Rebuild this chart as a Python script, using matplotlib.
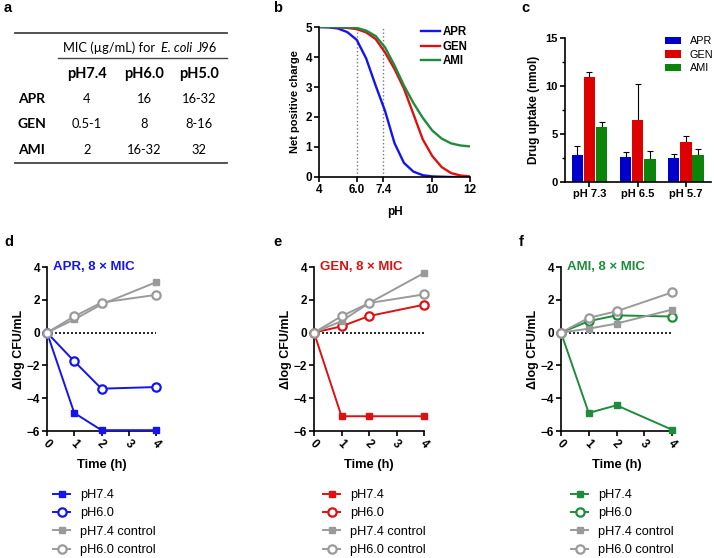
import numpy as np
import matplotlib
matplotlib.use('Agg')
from matplotlib import pyplot as plt
from matplotlib.lines import Line2D

plt.rcParams['font.family'] = 'sans-serif'
plt.rcParams['font.sans-serif'] = ['Liberation Sans', 'DejaVu Sans']
FONT = ['Liberation Sans', 'DejaVu Sans']

W, H = 714, 558

# ---- data ----
# table (panel a)
TAB_COLS = ['pH7.4', 'pH6.0', 'pH5.0']
TAB_ROWS = ['APR', 'GEN', 'AMI']
TAB_VALS = [['4', '16', '16-32'],
            ['0.5-1', '8', '8-16'],
            ['2', '16-32', '32']]

# net positive charge vs pH (panel b)
PH = [4, 4.5, 5, 5.5, 6, 6.5, 7, 7.5, 8, 8.5, 9, 9.5, 10, 10.5, 11, 11.5, 12]
CHG_APR = [5.0, 4.99, 4.95, 4.83, 4.57, 3.95, 3.05, 2.2, 1.13, 0.47, 0.18, 0.06, 0.02, 0.01, 0.0, 0.0, 0.0]
CHG_GEN = [5.0, 5.0, 4.99, 4.97, 4.93, 4.82, 4.6, 4.15, 3.6, 2.95, 2.1, 1.25, 0.7, 0.33, 0.13, 0.05, 0.02]
CHG_AMI = [5.0, 5.0, 5.0, 4.99, 4.97, 4.88, 4.7, 4.32, 3.72, 3.05, 2.47, 1.97, 1.55, 1.28, 1.12, 1.05, 1.02]

# drug uptake (panel c)
UPT_GROUPS = ['pH 7.3', 'pH 6.5', 'pH 5.7']
UPT_APR = [2.8, 2.62, 2.52]
UPT_APR_ERR = [0.98, 0.53, 0.38]
UPT_GEN = [10.98, 6.43, 4.16]
UPT_GEN_ERR = [0.52, 3.77, 0.67]
UPT_AMI = [5.73, 2.41, 2.76]
UPT_AMI_ERR = [0.49, 0.84, 0.63]

# time-kill (panels d-f)
TIME = [0, 1, 2, 4]
APR_74 = [0, -4.9, -5.95, -5.95]
APR_60 = [0, -1.75, -3.42, -3.32]
APR_74C = [0, 0.8, 1.72, 3.07]
APR_60C = [0, 0.99, 1.83, 2.3]
GEN_74 = [0, -5.1, -5.1, -5.1]
GEN_60 = [0, 0.38, 1.01, 1.7]
GEN_74C = [0, 0.7, 1.8, 3.63]
GEN_60C = [0, 1.0, 1.8, 2.33]
AMI_74 = [0, -4.9, -4.43, -5.92]
AMI_60 = [0, 0.7, 1.05, 0.98]
AMI_74C = [0, 0.24, 0.55, 1.4]
AMI_60C = [0, 0.9, 1.3, 2.45]

BLUE = '#1414F0'
RED = '#DD1111'
GREEN = '#1E8C3C'
GRAY = '#9A9A9A'


def fx(x):
    return x / W


def fy(y):
    return 1 - y / H


def rect(l, t, r, b):
    return [fx(l), fy(b), (r - l) / W, (b - t) / H]


def style_axes(ax, size=8.5):
    for s in ['top', 'right']:
        ax.spines[s].set_visible(False)
    for s in ['left', 'bottom']:
        ax.spines[s].set_linewidth(1.2)
    ax.tick_params(width=1.2, length=3.5, labelsize=size, pad=1.5)
    for lab in ax.get_xticklabels() + ax.get_yticklabels():
        lab.set_fontweight('bold')
        lab.set_family(FONT)


fig = plt.figure(figsize=(W / 100, H / 100), dpi=100)

# ---- panel labels ----
for lab, x, y in [('a', 4, 8), ('b', 273, 8), ('c', 521, 8),
                  ('d', 4, 242), ('e', 273, 242), ('f', 519, 242)]:
    fig.text(fx(x), fy(y), lab, family=FONT, fontsize=10.5, fontweight='bold', va='center', ha='left')

# ---- panel a: table ----
tfont = ['Lato', 'DejaVu Sans']
for (x0, x1, y, lw) in [(15, 227, 33, 1.3), (58, 227, 58, 1.0), (15, 227, 163, 1.3)]:
    fig.add_artist(Line2D([fx(x0), fx(x1)], [fy(y), fy(y)], transform=fig.transFigure,
                          color='#444444', lw=lw))
fig.text(fx(63), fy(48), 'MIC (\u00b5g/mL) for', family=tfont, fontsize=9.3, va='center', ha='left')
fig.text(fx(161), fy(48), 'E. coli', family=tfont, fontsize=9.3, style='italic', va='center', ha='left')
fig.text(fx(197), fy(48), 'J96', family=tfont, fontsize=9.3, va='center', ha='left')
col_x = [87, 144, 199]
row_y = [99, 124, 150]
for cx, c in zip(col_x, TAB_COLS):
    fig.text(fx(cx), fy(74), c, family=tfont, fontsize=10.5, fontweight='bold', ha='center', va='center')
for ry, r, vals in zip(row_y, TAB_ROWS, TAB_VALS):
    fig.text(fx(18), fy(ry), r, family=tfont, fontsize=10, fontweight='bold', ha='left', va='center')
    for cx, v in zip(col_x, vals):
        fig.text(fx(cx), fy(ry), v, family=tfont, fontsize=9.3, ha='center', va='center')

# ---- panel b: net charge ----
axb = fig.add_axes(rect(319, 27, 470, 177))
for xv in [6.0, 7.4]:
    axb.plot([xv, xv], [0, 5], ls=':', color='#777777', lw=1.0)
axb.plot(PH, CHG_APR, color=BLUE, lw=1.7, label='APR')
axb.plot(PH, CHG_GEN, color=RED, lw=1.7, label='GEN')
axb.plot(PH, CHG_AMI, color=GREEN, lw=1.7, label='AMI')
axb.set_xlim(4, 12)
axb.set_ylim(0, 5)
axb.set_xticks([4, 6.0, 7.4, 10, 12])
axb.set_xticklabels(['4', '6.0', '7.4', '10', '12'])
axb.set_yticks([0, 1, 2, 3, 4, 5])
style_axes(axb)
axb.set_xlabel('pH', family=FONT, fontsize=8.5, fontweight='bold', labelpad=7)
axb.set_ylabel('Net positive charge', family=FONT, fontsize=8, fontweight='bold', labelpad=4)
leg = axb.legend(loc='upper left', bbox_to_anchor=(fx(421), fy(26)), bbox_transform=fig.transFigure,
                 frameon=False, prop={'family': FONT, 'size': 8.3, 'weight': 'bold'},
                 handlelength=1.65, handletextpad=0.25, labelspacing=0.22, borderpad=0, borderaxespad=0)

# ---- panel c: drug uptake ----
axc = fig.add_axes(rect(565, 38.3, 711, 181.7))
xg = np.arange(len(UPT_GROUPS))
bw = 0.235
off = 0.252
for vals, errs, col, lab, o in [(UPT_APR, UPT_APR_ERR, '#0000CC', 'APR', -off),
                                (UPT_GEN, UPT_GEN_ERR, '#DD0000', 'GEN', 0),
                                (UPT_AMI, UPT_AMI_ERR, '#0A850A', 'AMI', off)]:
    axc.bar(xg + o, vals, width=bw, color=col, label=lab, zorder=2)
    axc.errorbar(xg + o, vals, yerr=[np.zeros(len(vals)), errs], fmt='none',
                 ecolor='black', elinewidth=0.8, capsize=2.5, capthick=0.8, zorder=1)
axc.set_xlim(-0.507, 2.52)
axc.set_ylim(0, 15)
axc.set_yticks([0, 5, 10, 15])
axc.set_xticks(xg)
axc.set_xticklabels(UPT_GROUPS)
axc.yaxis.set_minor_locator(matplotlib.ticker.MultipleLocator(2.5))
axc.tick_params(axis='y', which='minor', length=2, width=1.0)
style_axes(axc, size=8)
axc.set_ylabel('Drug uptake (nmol)', family=FONT, fontsize=8.5, fontweight='bold', labelpad=4)
axc.legend(loc='upper left', bbox_to_anchor=(fx(665), fy(36.5)), bbox_transform=fig.transFigure,
           frameon=False, prop={'family': FONT, 'size': 7.8}, handlelength=1.48, handleheight=0.65,
           handletextpad=0.8, labelspacing=0.3, borderpad=0, borderaxespad=0)

# ---- panels d-f: time kill ----
kill_panels = [
    (rect(47, 267, 156, 431), BLUE, 'APR, 8 \u00d7 MIC', APR_74, APR_60, APR_74C, APR_60C, 53),
    (rect(314, 267, 424, 431), RED, 'GEN, 8 \u00d7 MIC', GEN_74, GEN_60, GEN_74C, GEN_60C, 323),
    (rect(561, 267, 672, 431), GREEN, 'AMI, 8 \u00d7 MIC', AMI_74, AMI_60, AMI_74C, AMI_60C, 571),
]
for pos, col, title, s74, s60, c74, c60, lx in kill_panels:
    ax = fig.add_axes(pos)
    ax.plot([0, 4], [0, 0], ls=(0, (1.2, 1.2)), color='black', lw=1.2, zorder=1)
    h1, = ax.plot(TIME, s74, color=col, lw=1.4, marker='s', ms=4.8, clip_on=False, zorder=3, label='pH7.4')
    h2, = ax.plot(TIME, s60, color=col, lw=1.4, marker='o', ms=6, mfc='white', mew=1.6,
                  clip_on=False, zorder=3, label='pH6.0')
    h3, = ax.plot(TIME, c74, color=GRAY, lw=1.4, marker='s', ms=4.8, clip_on=False, zorder=4,
                  label='pH7.4 control')
    h4, = ax.plot(TIME, c60, color=GRAY, lw=1.4, marker='o', ms=6, mfc='white', mew=1.6,
                  clip_on=False, zorder=4, label='pH6.0 control')
    ax.set_xlim(0, 4)
    ax.set_ylim(-6, 4)
    ax.set_xticks([0, 1, 2, 3, 4])
    ax.set_yticks([-6, -4, -2, 0, 2, 4])
    style_axes(ax)
    for lab in ax.get_xticklabels():
        lab.set_rotation(-45)
        lab.set_ha('center')
    ax.set_xlabel('Time (h)', family=FONT, fontsize=9.3, fontweight='bold', labelpad=6)
    ax.set_ylabel('\u0394log CFU/mL', family=FONT, fontsize=9, fontweight='bold', labelpad=1)
    ax.text(0.055, 1.0, title, transform=ax.transAxes, color=col, family=FONT, fontsize=9.5,
            fontweight='bold', ha='left', va='center')
    fig.legend(handles=[h1, h2, h3, h4], loc='upper left',
               bbox_to_anchor=(fx(lx), fy(489)), bbox_transform=fig.transFigure,
               frameon=False, prop={'family': FONT, 'size': 9.2}, handlelength=1.35,
               handletextpad=0.75, labelspacing=0.5, borderpad=0, borderaxespad=0)

fig.savefig('out.png', dpi=100)
